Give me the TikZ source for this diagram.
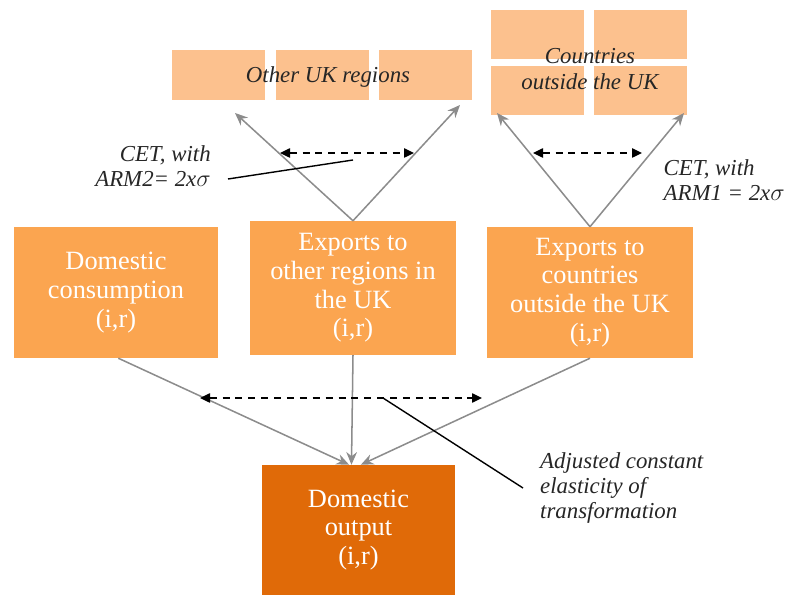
\documentclass[tikz,border=0pt]{standalone}
\usepackage{fontspec}
\setmainfont{Liberation Serif}
\usetikzlibrary{arrows.meta}
\definecolor{lorange}{HTML}{FBA550}
\definecolor{porange}{HTML}{FCC18E}
\definecolor{dorange}{HTML}{E06A08}
\definecolor{garrow}{HTML}{8C8C8C}
\tikzset{
  box/.style={fill=lorange, text=white, align=center, inner sep=2pt,
    font=\fontsize{22.5}{24.5}\selectfont},
  pbox/.style={fill=porange, minimum width=27.9mm, minimum height=15mm, inner sep=0pt},
  note/.style={font=\fontsize{19.5}{21.5}\selectfont\itshape, text=black!85, inner sep=0pt},
  gline/.style={draw=garrow, line width=1.3pt, -{Stealth[length=3.8mm,width=3.2mm]}},
  dline/.style={line width=1.2pt, dash pattern=on 6pt off 5pt,
    {Triangle[length=3mm,width=2.8mm]}-{Triangle[length=3mm,width=2.8mm]}},
  pline/.style={line width=1.2pt}
}
\begin{document}
\begin{tikzpicture}[x=0.3mm, y=-0.3mm]
\useasboundingbox (0,0) rectangle (790,603);
% small boxes at the top
\node[pbox] (r1) at (218.5,75) {};
\node[pbox] (r2) at (322,75) {};
\node[pbox] (r3) at (425,75) {};
\node[note] (rt) at (328,77) {Other UK regions};
\node[pbox, minimum height=14.7mm] (c1) at (537.5,34.5) {};
\node[pbox, minimum height=14.7mm] (c2) at (640.5,34.5) {};
\node[pbox, minimum height=14.7mm] (c3) at (537.5,90.5) {};
\node[pbox, minimum height=14.7mm] (c4) at (640.5,90.5) {};
\node[note, align=center] (ct) at (590,69) {Countries\\outside the UK};
% middle row
\node[box, minimum width=61.2mm, minimum height=39.3mm] (dc) at (116,292.5)
  {Domestic\\consumption\\(i,r)};
\node[box, minimum width=61.8mm, minimum height=40.2mm] (eo) at (353,288)
  {Exports to\\other regions in\\the UK\\(i,r)};
\node[box, minimum width=61.8mm, minimum height=39.3mm] (ec) at (590,292.5)
  {Exports to\\countries\\outside the UK\\(i,r)};
% bottom
\node[box, fill=dorange, minimum width=57.9mm, minimum height=39mm] (out) at (358.5,530)
  {Domestic\\output\\(i,r)};
% CET arrows
\coordinate (a1) at (235,113);
\coordinate (a2) at (460,105);
\coordinate (a3) at (497,113);
\coordinate (a4) at (684,113);
\draw[gline] (eo.north) -- (a1);
\draw[gline] (eo.north) -- (a2);
\draw[gline] (ec.north) -- (a3);
\draw[gline] (ec.north) -- (a4);
\coordinate (d1) at (280,153);
\coordinate (d2) at (414,153);
\coordinate (d3) at (533,153);
\coordinate (d4) at (642,153);
\draw[dline] (d1) -- (d2);
\draw[dline] (d3) -- (d4);
\node[note, align=right, anchor=east] (cl) at (211,166) {CET, with\\ARM2= 2x$\sigma$};
\node[note, align=left, anchor=east] (cr) at (785,180) {CET, with\\ARM1 = 2x$\sigma$};
\coordinate (p1) at (353,160);
\draw[pline] (cl.east) ++(17,13) -- (p1);
% transformation to output
\draw[gline] ([xshift=2]dc.south) -- ([xshift=-8]out.north);
\draw[gline] (eo.south) -- ([xshift=-6]out.north);
\draw[gline] (ec.south) -- ([xshift=2]out.north);
\coordinate (d5) at (200,398);
\coordinate (d6) at (482,398);
\draw[dline] (d5) -- (d6);
\node[note, align=left, anchor=west] (adj) at (540,488)
  {Adjusted constant\\elasticity of\\transformation};
\coordinate (p2) at (383,398);
\draw[pline] (p2) -- (523,488);
\end{tikzpicture}
\end{document}
